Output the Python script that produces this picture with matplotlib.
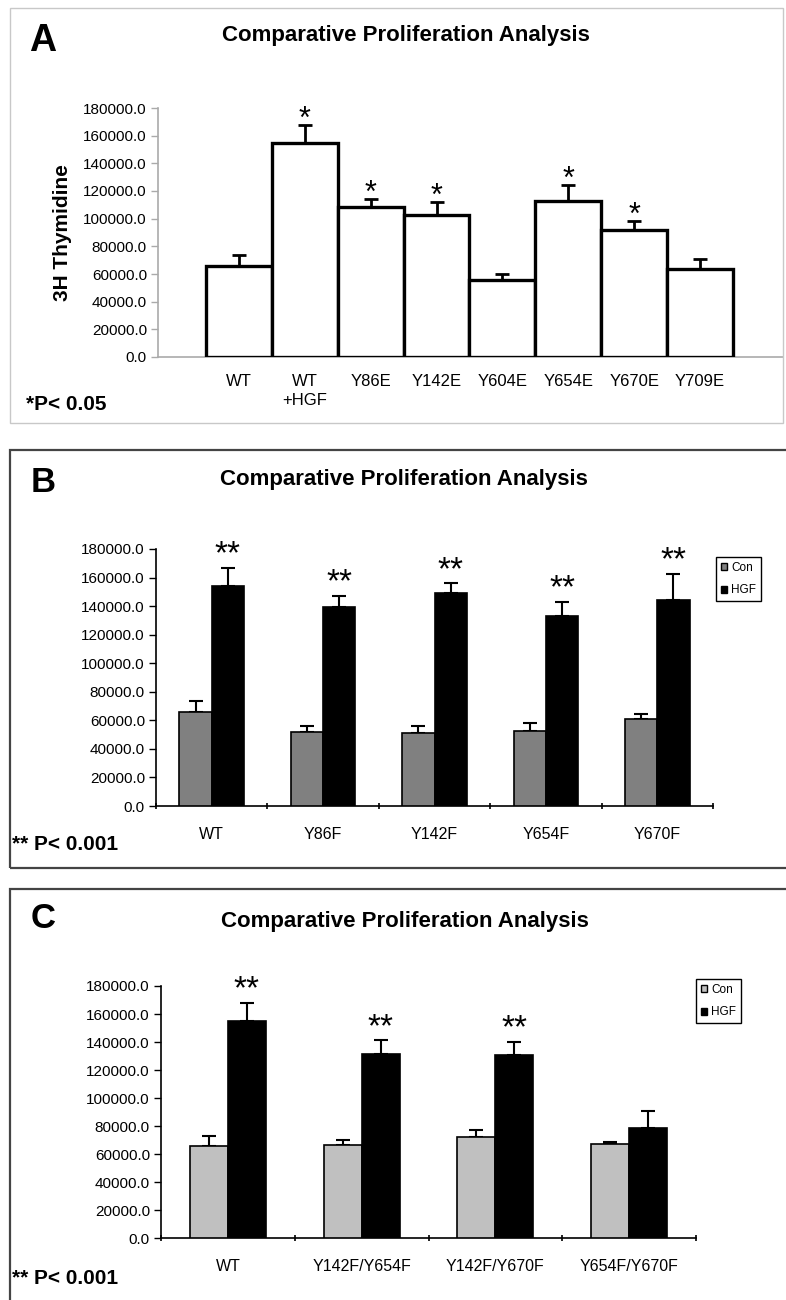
import matplotlib
matplotlib.use('Agg')
import matplotlib.pyplot as plt
from matplotlib.patches import Rectangle, Patch
from matplotlib.ticker import FixedLocator, FormatStrFormatter

plt.rcParams['font.family'] = ['Liberation Sans', 'DejaVu Sans']

# panel A: single bars
a_labels = ['WT', 'WT\n+HGF', 'Y86E', 'Y142E', 'Y604E', 'Y654E', 'Y670E', 'Y709E']
a_vals = [65800, 155000, 108700, 102900, 55700, 113000, 91800, 63900]
a_err = [7700, 13000, 5300, 9200, 4600, 11500, 6700, 6700]
a_star = [False, True, True, True, False, True, True, False]

# panel B: Con vs HGF
b_labels = ['WT', 'Y86F', 'Y142F', 'Y654F', 'Y670F']
b_con = [66000, 51700, 50800, 52700, 60600]
b_con_err = [7500, 4000, 4900, 5150, 3750]
b_hgf = [153800, 139500, 149300, 133000, 144000]
b_hgf_err = [13100, 7700, 6550, 9800, 18500]
b_star = [True, True, True, True, True]

# panel C: double mutants
c_labels = ['WT', 'Y142F/Y654F', 'Y142F/Y670F', 'Y654F/Y670F']
c_con = [65400, 66600, 72300, 67100]
c_con_err = [7600, 3300, 5000, 1400]
c_hgf = [155000, 131700, 130500, 78700]
c_hgf_err = [13100, 9500, 9750, 12100]
c_star = [True, True, True, False]

yticks = list(range(0, 180001, 20000))
title = 'Comparative Proliferation Analysis'

W, H = 786, 1300
fig = plt.figure(figsize=(W / 100, H / 100), dpi=100)


def fx(x):
    return x / W


def fy(y):
    return 1 - y / H


def make_ax(l, t, r, b):
    return fig.add_axes([fx(l), fy(b), fx(r) - fx(l), fy(t) - fy(b)])


def style_y(ax, spine_col):
    ax.set_ylim(0, 180000)
    ax.yaxis.set_major_locator(FixedLocator(yticks))
    ax.yaxis.set_major_formatter(FormatStrFormatter('%.1f'))
    ax.tick_params(axis='y', labelsize=11, length=5, width=1, color=spine_col, pad=3)
    for s in ['top', 'right']:
        ax.spines[s].set_visible(False)
    for s in ['left', 'bottom']:
        ax.spines[s].set_color(spine_col)
        ax.spines[s].set_linewidth(1.2)


def stars(ax, xs, tops, flags, txt, off, size):
    for x, t, f in zip(xs, tops, flags):
        if f:
            ax.annotate(txt, (x, t), xytext=(0, off), textcoords='offset pixels',
                        ha='center', va='center', fontsize=size)


def add_legend(ax, con_col, x, y):
    ax.legend(handles=[Patch(fc=con_col, ec='black', label='Con'),
                       Patch(fc='black', ec='black', label='HGF')],
              loc='upper left', bbox_to_anchor=(fx(x), fy(y)), bbox_transform=fig.transFigure,
              borderaxespad=0, fontsize=8.5, handlelength=0.5, handleheight=0.5,
              handletextpad=0.4, borderpad=0.4, labelspacing=0.9, fancybox=False,
              edgecolor='black', framealpha=1)


# frames
fig.add_artist(Rectangle((fx(10), fy(423)), fx(783) - fx(10), fy(8) - fy(423),
                         transform=fig.transFigure, fill=False, ec='#c8c8c8', lw=1))
fig.add_artist(Rectangle((fx(10), fy(868)), fx(800) - fx(10), fy(450) - fy(868),
                         transform=fig.transFigure, fill=False, ec='#444444', lw=1.6))
fig.add_artist(Rectangle((fx(10), fy(1320)), fx(800) - fx(10), fy(889) - fy(1320),
                         transform=fig.transFigure, fill=False, ec='#444444', lw=1.6))

# ---- A ----
ax1 = make_ax(158, 108, 783, 357)
xa = list(range(len(a_vals)))
ax1.bar(xa, a_vals, width=1.0, color='white', edgecolor='black', linewidth=2.4, zorder=3)
ax1.errorbar(xa, a_vals, yerr=[[0] * len(a_err), a_err], fmt='none', ecolor='black',
             elinewidth=2, capsize=5, capthick=2, zorder=2)
style_y(ax1, '#aaaaaa')
ax1.set_xlim(-1.228, 8.259)
ax1.set_xticks(xa)
ax1.set_xticklabels(a_labels, fontsize=12, linespacing=1.4)
ax1.tick_params(axis='x', length=0, pad=12)
ax1.set_ylabel('3H Thymidine', fontsize=15, fontweight='bold', labelpad=8)
stars(ax1, xa, [v + e for v, e in zip(a_vals, a_err)], a_star, '*', 5, 22)

fig.text(fx(43), fy(41), 'A', fontsize=27, fontweight='bold', ha='center', va='center')
fig.text(fx(406), fy(35), title, fontsize=16, fontweight='bold', ha='center', va='center')
fig.text(fx(26), fy(405), '*P< 0.05', fontsize=15, fontweight='bold', ha='left', va='center')


def grouped(ax, labels, con, con_err, hgf, hgf_err, flags, con_col, bw):
    n = len(labels)
    xc = [i + 0.5 for i in range(n)]
    x0 = [x - bw / 2 for x in xc]
    x1 = [x + bw / 2 for x in xc]
    ax.bar(x0, con, width=bw, color=con_col, edgecolor='black', linewidth=1.2, zorder=3)
    ax.bar(x1, hgf, width=bw, color='black', edgecolor='black', linewidth=1.2, zorder=3)
    ax.errorbar(x0, con, yerr=[[0] * n, con_err], fmt='none', ecolor='black',
                elinewidth=1.5, capsize=5, capthick=1.5, zorder=2)
    ax.errorbar(x1, hgf, yerr=[[0] * n, hgf_err], fmt='none', ecolor='black',
                elinewidth=1.5, capsize=5, capthick=1.5, zorder=2)
    style_y(ax, 'black')
    ax.set_xlim(0, n)
    ax.set_xticks(xc)
    ax.set_xticklabels(labels, fontsize=11.5)
    ax.set_xticks(range(n + 1), minor=True)
    ax.tick_params(axis='x', which='major', length=0, pad=15)
    ax.tick_params(axis='x', which='minor', length=5, width=1.2, direction='inout')
    stars(ax, x1, [v + e for v, e in zip(hgf, hgf_err)], flags, '**', 13, 24)
    return ax


# ---- B ----
ax2 = make_ax(156, 549, 713, 806)
grouped(ax2, b_labels, b_con, b_con_err, b_hgf, b_hgf_err, b_star, '#808080', 0.29)
add_legend(ax2, '#808080', 716, 557)
fig.text(fx(43), fy(482), 'B', fontsize=25, fontweight='bold', ha='center', va='center')
fig.text(fx(404), fy(480), title, fontsize=16, fontweight='bold', ha='center', va='center')
fig.text(fx(12), fy(844), '** P< 0.001', fontsize=15, fontweight='bold', ha='left', va='center')

# ---- C ----
ax3 = make_ax(161, 986, 696, 1238)
grouped(ax3, c_labels, c_con, c_con_err, c_hgf, c_hgf_err, c_star, '#c0c0c0', 0.285)
add_legend(ax3, '#c0c0c0', 696, 979)
fig.text(fx(43), fy(918), 'C', fontsize=25, fontweight='bold', ha='center', va='center')
fig.text(fx(405), fy(921), title, fontsize=16, fontweight='bold', ha='center', va='center')
fig.text(fx(12), fy(1279), '** P< 0.001', fontsize=15, fontweight='bold', ha='left', va='center')

fig.savefig('out.png', dpi=100)
